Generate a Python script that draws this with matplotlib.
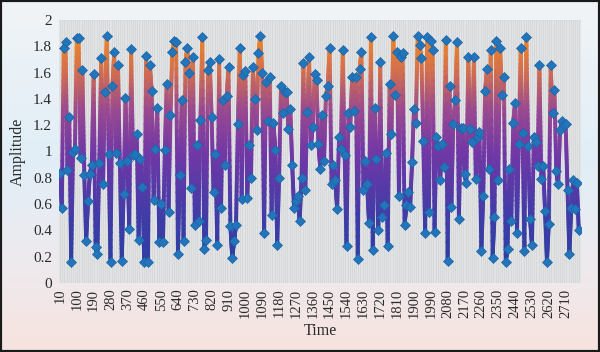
import numpy as np
import matplotlib
matplotlib.use('Agg')
import matplotlib.pyplot as plt
from matplotlib.collections import LineCollection
from matplotlib.colors import LinearSegmentedColormap, to_rgb
from matplotlib.patches import Rectangle

# ---- data ----
time = list(range(10, 2790, 10))  # category labels 10 .. 2780

amp_a = [0.84, 0.57, 1.79, 1.83, 0.86, 1.26, 0.16, 1.00, 1.02, 1.86, 1.86, 0.95, 1.62, 0.82, 0.32, 0.62,
         0.83, 0.90, 1.59, 0.27, 0.22, 0.91, 1.71, 0.75, 1.45, 1.88, 0.98, 0.16, 1.50, 1.76, 0.99, 1.66,
         0.91, 0.17, 0.68, 1.41, 0.93, 0.41, 1.78, 0.97, 0.98, 1.13, 0.33, 0.94, 0.73, 0.16]
amp_b = [1.73, 0.16, 1.66, 1.46, 0.63, 1.02, 1.33, 0.31, 0.60, 0.31, 1.01, 1.51, 0.54, 1.28, 1.76, 1.84,
         1.83, 0.22, 0.82, 1.39, 0.32, 1.68, 1.79, 1.60, 0.72, 1.72, 0.44, 1.05, 0.47, 1.24, 1.87, 0.26,
         0.33, 1.62, 1.68, 1.26, 0.69, 0.98, 0.29, 1.70, 0.57, 1.39, 0.90, 1.42, 1.64, 0.43]
amp_c = [0.19, 0.32, 0.44, 1.21, 1.79, 0.64, 1.58, 1.61, 0.65, 1.05, 0.80, 1.64, 1.40, 1.16, 1.75, 1.88,
         1.60, 0.38, 1.53, 1.23, 1.57, 0.52, 1.22, 1.01, 0.29, 0.80, 1.50, 1.29, 1.45, 1.45, 1.17, 1.32,
         0.90, 0.57, 0.62, 0.66, 0.47, 0.80, 1.67, 0.71, 1.30, 1.72, 1.05, 1.19, 1.59, 1.54, 1.06, 0.87]
amp_d = [1.28, 0.93, 1.42, 1.50, 1.79, 0.75, 0.90, 0.78, 0.56, 1.11, 1.02, 1.77, 0.97, 0.28, 1.29, 1.19,
         1.57, 1.31, 1.57, 0.18, 1.63, 1.76, 0.71, 0.93, 0.75, 0.46, 1.87, 0.25, 1.33, 0.94, 0.40, 1.68,
         0.50, 0.59, 0.99, 0.28, 1.51, 1.13, 1.88, 1.43, 1.76, 0.66, 1.72, 1.75]
amp_e = [0.44, 0.59, 0.69, 0.58, 0.92, 1.32, 1.22, 1.88, 1.81, 1.71, 1.08, 0.38, 1.87, 0.54, 1.84, 1.77,
         0.39, 1.11, 1.04, 0.78, 1.06, 0.88, 1.85, 0.17, 1.50, 0.58, 1.21, 1.39, 1.83, 0.49, 1.18, 1.18,
         0.83, 0.76, 1.72, 1.17, 1.07, 1.72, 0.79, 1.11, 1.15, 0.24, 0.66, 1.46, 1.63, 0.87, 1.77, 0.19,
         0.50, 1.84]
amp_f = [0.78, 1.79, 1.43, 1.57, 0.16, 0.26, 0.87, 0.47, 1.22, 1.37, 0.38, 1.06, 1.79, 1.14, 0.24, 1.87,
         1.04, 0.49, 0.29, 1.11, 1.07, 0.89, 1.66, 0.79, 0.89, 0.55, 0.16, 0.45, 1.66, 1.29, 1.47, 0.85,
         0.75, 1.16, 1.23, 1.20, 1.21, 0.71, 0.22, 0.57, 0.78, 0.56, 0.76, 0.40]
amplitude = amp_a + amp_b + amp_c + amp_d + amp_e + amp_f

y_ticks = [0, 0.2, 0.4, 0.6, 0.8, 1.0, 1.2, 1.4, 1.6, 1.8, 2.0]
y_tick_labels = ['0', '0.2', '0.4', '0.6', '0.8', '1', '1.2', '1.4', '1.6', '1.8', '2']

# ---- figure ----
plt.rcParams['font.family'] = ['Liberation Serif', 'DejaVu Serif']
fig = plt.figure(figsize=(6.0, 3.52), dpi=100)

# background gradient
bg = fig.add_axes([0, 0, 1, 1], zorder=-10)
stops = [(0.0, '#f1f4f6'), (0.45, '#e1eef7'), (0.75, '#eeeaee'), (1.0, '#f7e3df')]
h = 200
rows = np.linspace(0, 1, h)
cols = np.array([to_rgb(c) for _, c in stops])
pos = np.array([p for p, _ in stops])
img = np.stack([np.interp(rows, pos, cols[:, k]) for k in range(3)], axis=-1)
img = np.repeat(img[:, None, :], 4, axis=1)
bg.imshow(img, aspect='auto', extent=[0, 1, 0, 1], origin='upper')
bg.axis('off')

ax = fig.add_axes([59 / 600, 69 / 352, 522 / 600, 263 / 352])
ax.set_facecolor('#d7d8da')
n = len(amplitude)
x = np.arange(n)
y = np.array(amplitude)

ax.vlines(np.arange(-0.5, n + 0.5, 1.0), 0, 2, colors='#e5e6e8', lw=0.6, zorder=0)

cmap = LinearSegmentedColormap.from_list('amp', [
    (0.0, '#27409c'), (0.25, '#3f3ca8'), (0.5, '#7238a6'),
    (0.66, '#9a4a90'), (0.8, '#d26e50'), (1.0, '#fc9312')])
sub = 24
t = np.linspace(0, 1, sub + 1)
xs = x[:-1, None] + (x[1:] - x[:-1])[:, None] * t
ys = y[:-1, None] + (y[1:] - y[:-1])[:, None] * t
pts = np.stack([xs, ys], axis=-1)
segs = np.concatenate([pts[:, :-1, None, :], pts[:, 1:, None, :]], axis=2).reshape(-1, 2, 2)
mids = segs[:, :, 1].mean(axis=1)
lc = LineCollection(segs, cmap=cmap, norm=plt.Normalize(0, 2), linewidths=2.8, zorder=2)
lc.set_capstyle('round')
lc.set_array(mids)
ax.add_collection(lc)

ax.plot(x, y, ls='none', marker='D', ms=5.6, mfc='#2274bb', mec='#1d64a6', mew=0.5, zorder=3)

ax.set_xlim(-0.5, n + 0.2)
ax.set_ylim(0, 2)
ax.set_xticks(x[::9])
ax.set_xticklabels([str(v) for v in time[::9]], rotation=90, fontsize=10.5, color='#2a2a2a')
ax.set_yticks(y_ticks)
ax.set_yticklabels(y_tick_labels, fontsize=11, color='#2a2a2a')
ax.tick_params(length=0, pad=5)
ax.tick_params(axis='x', pad=4)
for s in ax.spines.values():
    s.set_visible(False)

fig.text(320 / 600, 1 - 331 / 352, 'Time', ha='center', va='center', fontsize=11.5, color='#2a2a2a')
fig.text(18 / 600, 1 - 152 / 352, 'Amplitude', ha='center', va='center', rotation=90,
         fontsize=11.5, color='#2a2a2a')

fig.patches.append(Rectangle((0, 0), 1, 1, transform=fig.transFigure, fill=False,
                             ec='#1a1a1a', lw=3, zorder=20))

fig.savefig('out.png', dpi=100)
